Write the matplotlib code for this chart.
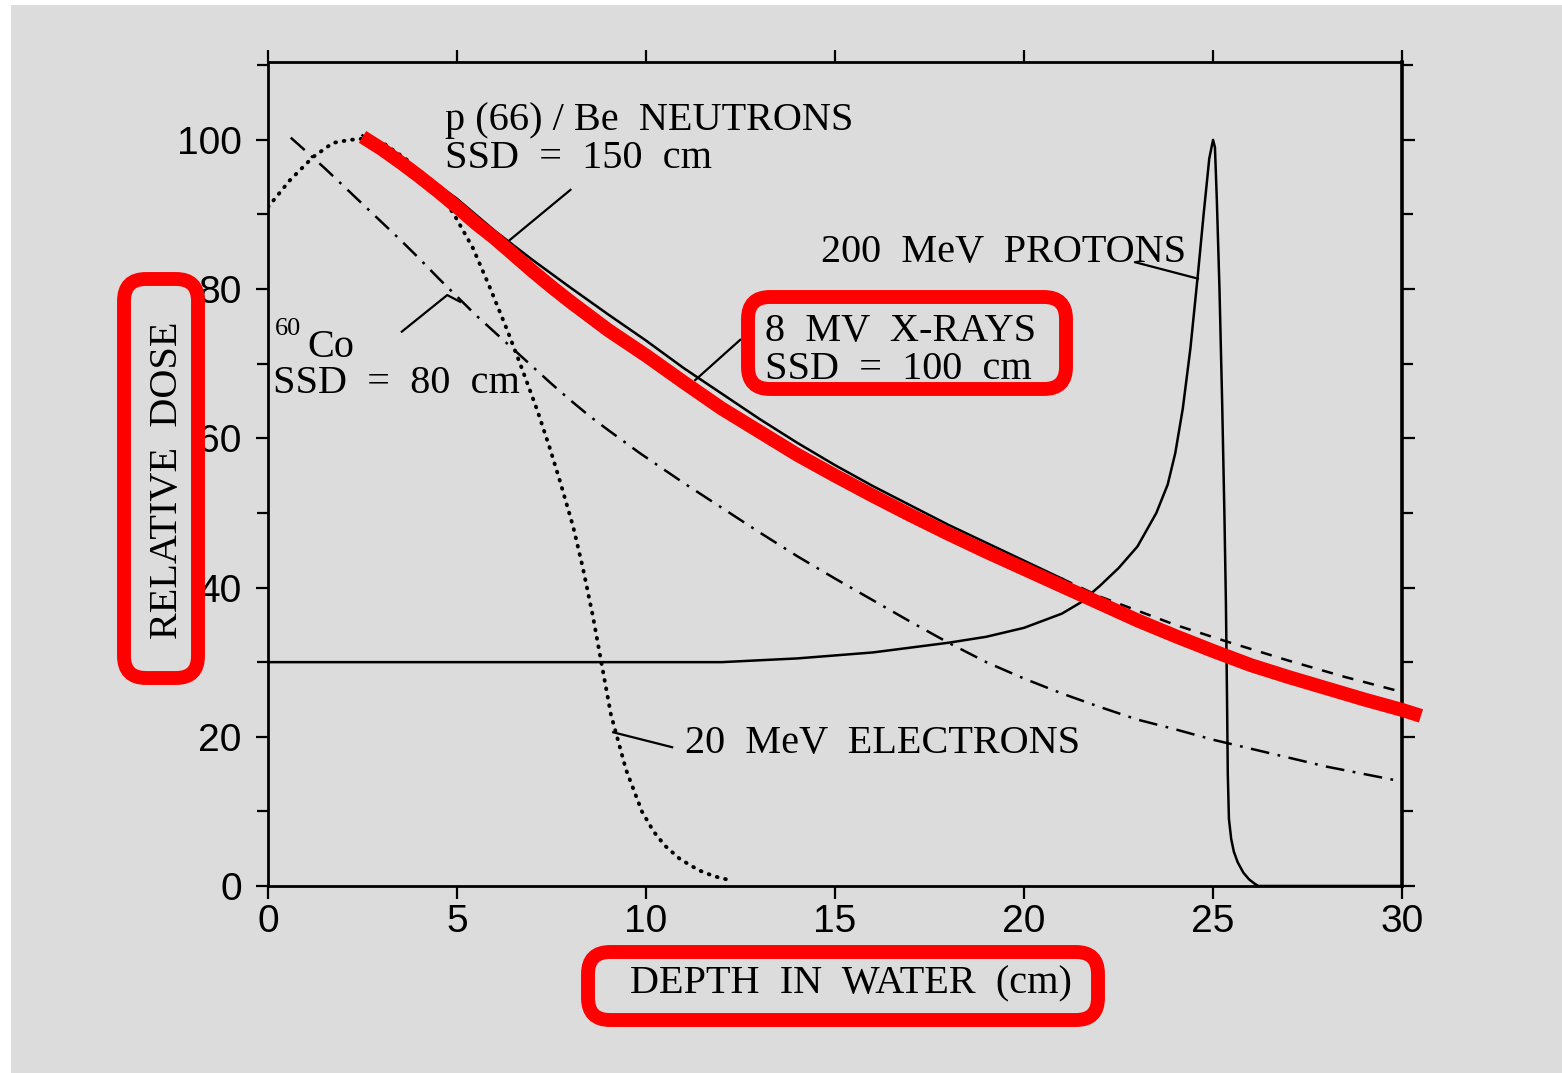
import matplotlib.pyplot as plt
from matplotlib.patches import FancyBboxPatch, Rectangle
from matplotlib.transforms import IdentityTransform
from matplotlib.ticker import MultipleLocator

serif = ['Liberation Serif', 'DejaVu Serif']
narrow = ['Liberation Sans Narrow', 'Liberation Sans', 'DejaVu Sans']
bg = '#dcdcdc'

# depth (cm) vs relative dose (%)
co60_depth = [0.6, 1, 1.5, 2, 2.5, 3, 3.5, 4, 4.5, 5, 5.5, 6, 6.5, 7, 7.5, 8, 8.5, 9,
              9.84, 11, 12, 13, 14, 15, 16, 17, 18, 19, 20, 21, 22, 23, 24, 25, 26,
              27, 28, 29, 30]
co60_dose = [100.3, 98.5, 96.2, 93.8, 91.4, 89.0, 86.6, 84.1, 81.5, 79.0, 76.5, 74.2,
             71.9, 69.6, 67.3, 65.1, 63.0, 61.1, 58.0, 54.0, 50.7, 47.4, 44.2, 41.2,
             38.3, 35.4, 32.6, 30.0, 27.8, 25.8, 24.0, 22.3, 21.0, 19.6, 18.4, 17.2,
             16.0, 15.0, 14.0]

electron_depth = [0, 0.58, 1.19, 1.72, 2.17, 2.6, 3.04, 3.68, 4.3, 4.9, 5.42, 5.87,
                  6.32, 6.72, 7.12, 7.46, 7.72, 8.07, 8.33, 8.6, 8.78, 9.07, 9.47,
                  9.89, 10.2, 10.5, 10.9, 11.4, 11.8, 12.2]
electron_dose = [91.0, 94.6, 97.7, 99.6, 100.0, 100.2, 99.6, 97.3, 94.0, 90.2, 85.5, 80.2,
                 74.6, 69.3, 63.8, 58.6, 54.3, 48.2, 42.6, 36.0, 31.0, 23.0, 15.6,
                 10.0, 7.3, 5.4, 3.6, 2.1, 1.3, 0.8]

neutron_depth = [2.5, 3, 4, 5, 6, 7, 8, 9, 10, 11, 12, 13, 14, 15, 16, 17, 18, 19,
                 20, 21]
neutron_dose = [100.6, 99.0, 95.8, 92.1, 87.8, 83.9, 80.2, 76.6, 73.1, 69.4, 66.0, 62.6,
                59.4, 56.4, 53.6, 51.0, 48.4, 46.0, 43.6, 41.2]
neutron_tail_depth = [21, 22, 23, 24, 25.4, 27, 28.5, 30]
neutron_tail_dose = [41.2, 38.8, 36.9, 35.0, 32.7, 30.2, 28.0, 26.0]

xray_depth = [2.5, 3, 3.5, 4, 4.5, 5, 5.5, 6, 6.5, 7, 7.5, 8, 8.5, 9, 9.5, 10, 11, 12,
              13, 14, 15, 16, 17, 18, 19, 20, 21, 22, 23, 24, 25, 26, 27, 28, 29, 30,
              30.5]
xray_dose = [100.4, 98.8, 97.0, 95.1, 93.1, 91.0, 88.8, 86.8, 84.6, 82.4, 80.3, 78.3,
             76.4, 74.5, 72.8, 71.1, 67.5, 64.0, 60.9, 57.8, 55.0, 52.3, 49.7, 47.2,
             44.8, 42.5, 40.2, 37.9, 35.6, 33.5, 31.5, 29.6, 28.0, 26.5, 25.0, 23.6,
             22.8]

proton_depth = [0, 12, 14, 16, 18, 19, 20, 21, 21.5, 22, 22.5, 23, 23.5, 23.8, 24.0,
                24.2, 24.4, 24.6, 24.75, 24.9, 25.0, 25.05, 25.1, 25.17, 25.24, 25.3,
                25.34, 25.37, 25.39, 25.42, 25.48, 25.55, 25.65, 25.8, 25.95, 26.1,
                26.2, 30]
proton_dose = [30.0, 30.0, 30.5, 31.3, 32.6, 33.4, 34.6, 36.5, 38.0, 40.2, 42.6, 45.5,
               50.0, 53.8, 58.0, 64.0, 72.0, 82.0, 90.0, 97.5, 100.0, 99.0, 92.0, 80.0,
               65.0, 50.0, 38.0, 25.0, 15.0, 9.0, 6.3, 4.6, 3.2, 1.8, 0.9, 0.3,
               0.0, 0.0]

xticks = [0, 5, 10, 15, 20, 25, 30]
yticks = [0, 20, 40, 60, 80, 100]

fig = plt.figure(figsize=(15.62, 10.73), dpi=100, facecolor='white')
fig.patches.append(Rectangle((11, 0), 1562, 1068, transform=IdentityTransform(),
                             facecolor=bg, edgecolor='none', zorder=-10))

ax = fig.add_axes([0.1716, 0.1743, 0.726, 0.768])
ax.set_facecolor(bg)
ax.patch.set_alpha(0)
ax.set_xlim(0, 30)
ax.set_ylim(0, 110.45)

lw = 1.8
ax.plot(co60_depth, co60_dose, color='black', lw=lw, dashes=(7.5, 3.4, 1.1, 3.4))
ax.plot(electron_depth, electron_dose, color='black', lw=2.8, dashes=(0.2, 2.0),
        dash_capstyle='round')
ax.plot(neutron_depth, neutron_dose, color='black', lw=lw)
ax.plot(neutron_tail_depth, neutron_tail_dose, color='black', lw=lw, dashes=(4.5, 4))
ax.plot(proton_depth, proton_dose, color='black', lw=lw)
ax.plot(xray_depth, xray_dose, color='red', lw=10, solid_capstyle='butt',
        solid_joinstyle='round', clip_on=False, zorder=5)

# leader lines
leader = dict(color='black', lw=1.6)
ax.plot([8.0, 6.4], [93.3, 86.6], **leader)
ax.plot([3.54, 4.74, 5.08], [74.3, 79.2, 78.3], **leader)
ax.plot([12.49, 11.3], [73.2, 67.8], **leader)
ax.plot([22.94, 24.6], [83.6, 81.4], **leader)
ax.plot([10.69, 9.13], [18.6, 20.6], **leader)

fs = 29
txt = dict(fontsize=fs, family=serif, ha='left', va='baseline', color='black')
ax.text(4.68, 101.3, 'p (66) / Be  NEUTRONS', **txt)
ax.text(4.68, 96.2, 'SSD  =  150  cm', **txt)
ax.text(14.62, 83.6, '200  MeV  PROTONS', **txt)
ax.text(13.15, 73.1, '8  MV  X-RAYS', **txt)
ax.text(13.15, 68.0, 'SSD  =  100  cm', **txt)
ax.text(0.19, 73.9, '60', fontsize=19, family=serif, ha='left', va='baseline')
ax.text(1.03, 70.9, 'Co', **txt)
ax.text(0.12, 66.1, 'SSD  =  80  cm', **txt)
ax.text(11.03, 17.8, '20  MeV  ELECTRONS', **txt)

ax.set_xticks(xticks)
ax.set_yticks(yticks)
ax.yaxis.set_minor_locator(MultipleLocator(10))
ax.tick_params(which='both', direction='out', width=1.6, top=True, right=True,
               labelsize=28, colors='black')
ax.tick_params(which='major', length=9)
ax.tick_params(which='minor', length=8)
ax.tick_params(axis='x', pad=4)
ax.tick_params(axis='y', pad=10)
for lab in ax.get_xticklabels() + ax.get_yticklabels():
    lab.set_family(narrow)
for s in ax.spines.values():
    s.set_linewidth(2.0)
ax.spines['right'].set_linewidth(2.6)

fig.text(851 / 1562, 1 - 984 / 1073, 'DEPTH  IN  WATER  (cm)', fontsize=fs,
         family=serif, ha='center', va='center')
fig.text(167 / 1562, 1 - 480 / 1073, 'RELATIVE  DOSE', fontsize=fs, family=serif,
         rotation=90, ha='center', va='center')

# red highlight boxes, in pixel coordinates
H = 1073
for x0, y0, x1, y1 in [(124, 279, 198, 678), (748, 297, 1066, 389), (588, 952, 1098, 1020)]:
    fig.patches.append(FancyBboxPatch((x0, H - y1), x1 - x0, y1 - y0,
                                      boxstyle='round,pad=0,rounding_size=22',
                                      transform=IdentityTransform(), facecolor='none',
                                      edgecolor='red', lw=10, zorder=10))

fig.savefig('out.png', dpi=100, facecolor=fig.get_facecolor())
